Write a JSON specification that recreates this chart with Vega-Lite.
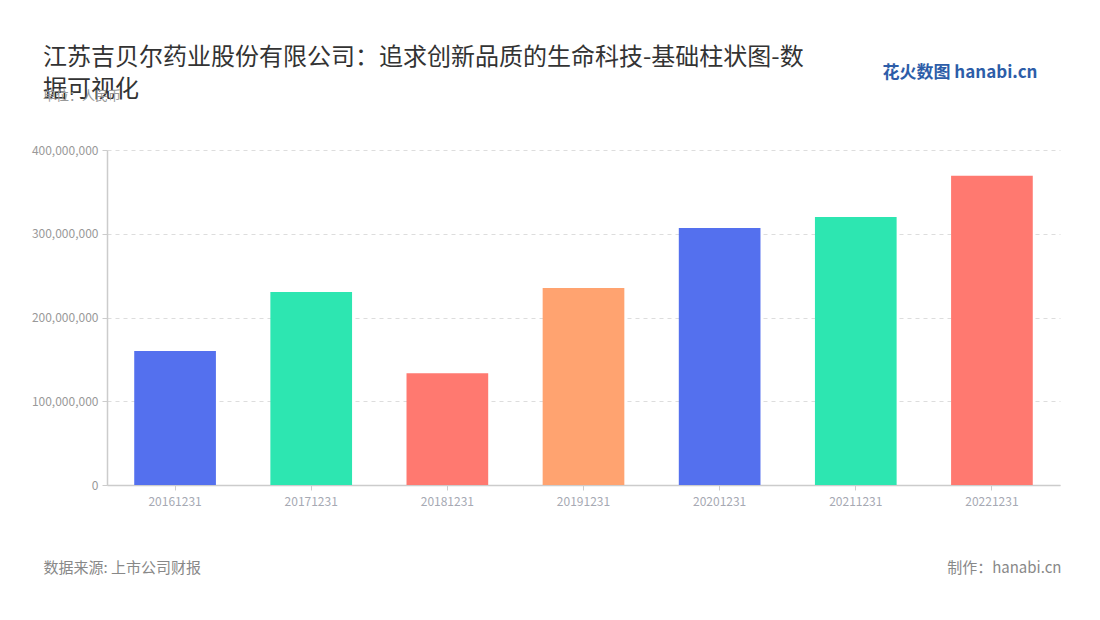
{
  "$schema": "https://vega.github.io/schema/vega-lite/v6.json",
  "autosize": {"type": "none"},
  "width": 953,
  "height": 335,
  "padding": {"left": 107, "top": 150, "right": 40, "bottom": 135},
  "background": "#ffffff",
  "config": {
    "view": {"stroke": null},
    "font": "Noto Sans CJK SC"
  },
  "title": {
    "text": ["江苏吉贝尔药业股份有限公司：追求创新品质的生命科技-基础柱状图-数", "据可视化"],
    "subtitle": "单位：人民币",
    "anchor": "start",
    "frame": "group",
    "dx": -64,
    "offset": -40,
    "font": "Noto Sans CJK SC",
    "fontSize": 24,
    "fontWeight": "normal",
    "color": "#333333",
    "lineHeight": 32,
    "subtitleFont": "Noto Sans CJK SC",
    "subtitleFontSize": 13,
    "subtitleColor": "#999999",
    "subtitlePadding": -12
  },
  "data": {
    "values": [
      {"date": "20161231", "value": 160000000},
      {"date": "20171231", "value": 230500000},
      {"date": "20181231", "value": 133300000},
      {"date": "20191231", "value": 235200000},
      {"date": "20201231", "value": 306900000},
      {"date": "20211231", "value": 320000000},
      {"date": "20221231", "value": 369300000}
    ]
  },
  "resolve": {"axis": {"x": "independent", "y": "independent"}},
  "layer": [
    {
      "mark": {"type": "bar"},
      "encoding": {
        "x": {
          "field": "date",
          "type": "nominal",
          "sort": null,
          "scale": {"paddingInner": 0.4, "paddingOuter": 0.2},
          "axis": {
            "orient": "bottom",
            "labelAngle": 0,
            "labelColor": "#a6a9b3",
            "labelFontSize": 12,
            "labelPadding": 6,
            "domainColor": "#cccccc",
            "domainWidth": 1.5,
            "tickColor": "#cccccc",
            "tickSize": 5,
            "title": "数据来源: 上市公司财报",
            "titleFontSize": 15,
            "titleFontWeight": "normal",
            "titleColor": "#888888",
            "titleAnchor": "start",
            "titleAlign": "left",
            "titleBaseline": "middle",
            "titleX": -64,
            "titleY": 82
          }
        },
        "y": {
          "field": "value",
          "type": "quantitative",
          "scale": {"domain": [0, 400000000]},
          "axis": {
            "orient": "left",
            "values": [0, 100000000, 200000000, 300000000, 400000000],
            "format": ",d",
            "labelColor": "#999999",
            "labelFontSize": 12,
            "labelPadding": 4,
            "domain": true,
            "domainColor": "#cccccc",
            "domainWidth": 1.5,
            "tickColor": "#cccccc",
            "tickSize": 5,
            "grid": true,
            "gridColor": "#dddddd",
            "gridDash": [4, 4],
            "title": null
          }
        },
        "color": {
          "field": "date",
          "type": "nominal",
          "sort": null,
          "legend": null,
          "scale": {"range": ["#5470EE", "#2DE6B1", "#FF7970", "#FFA370", "#5470EE", "#2DE6B1", "#FF7970"]}
        }
      }
    },
    {
      "mark": {"type": "bar", "opacity": 0},
      "encoding": {
        "x": {
          "field": "date",
          "type": "nominal",
          "sort": null,
          "axis": {
            "orient": "top",
            "labels": false,
            "ticks": false,
            "domain": false,
            "grid": false,
            "title": "花火数图 hanabi.cn",
            "titleFontSize": 17,
            "titleFontWeight": "bold",
            "titleColor": "#2D5DA8",
            "titleAnchor": "end",
            "titleAlign": "right",
            "titleBaseline": "middle",
            "titleX": 930,
            "titleY": -78
          }
        },
        "y": {
          "field": "value",
          "type": "quantitative",
          "axis": {
            "orient": "right",
            "labels": false,
            "ticks": false,
            "domain": false,
            "grid": false,
            "title": "制作：hanabi.cn",
            "titleAngle": 0,
            "titleFontSize": 15,
            "titleFontWeight": "normal",
            "titleColor": "#888888",
            "titleAlign": "right",
            "titleBaseline": "middle",
            "titleX": 1,
            "titleY": 417
          }
        }
      }
    }
  ]
}
